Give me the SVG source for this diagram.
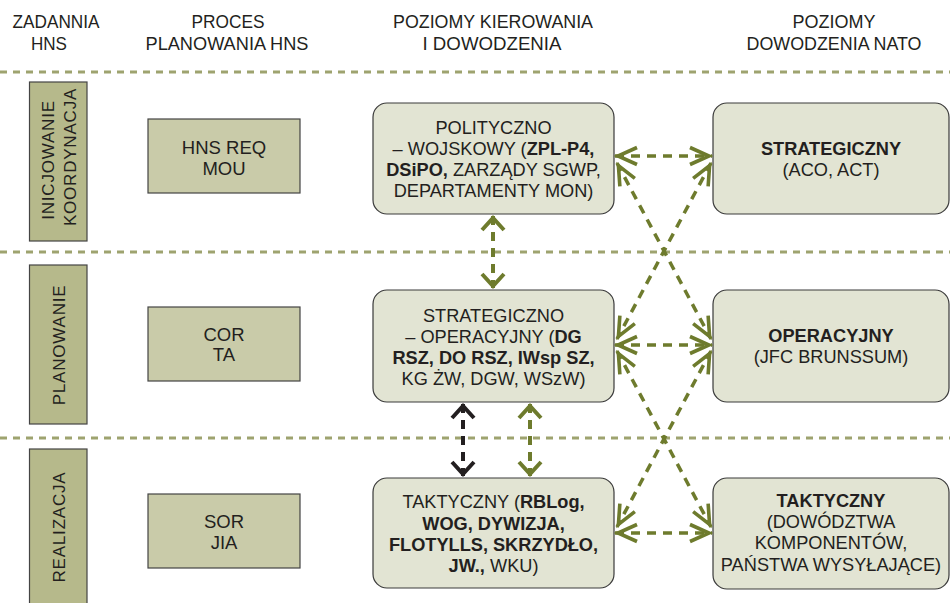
<svg xmlns="http://www.w3.org/2000/svg" width="950" height="603" viewBox="0 0 950 603">
<style>
text{font-family:"Liberation Sans",Arial,sans-serif;fill:#231f20}
.hd{font-size:19px;text-anchor:middle}
.vt{font-size:17px;text-anchor:middle;letter-spacing:0.8px}
.pl{font-size:18.5px;text-anchor:middle}
.bx{font-size:18.2px;text-anchor:middle}
.b{font-weight:bold}
.sep{stroke:#9ea36f;stroke-width:3;stroke-dasharray:7 6;fill:none}
.task{fill:#b6b98b;stroke:#444;stroke-width:1.2}
.proc{fill:#c9cba9;stroke:#444;stroke-width:1.2}
.lvl{fill:#e2e4d3;stroke:#3a3a3a;stroke-width:1.2}
.cg{stroke:#6e7b2d;stroke-width:3.5;stroke-dasharray:9 7;fill:none;marker-start:url(#ag);marker-end:url(#ag)}
.cv{stroke:#6e7b2d;stroke-width:4;stroke-dasharray:9 7;fill:none;marker-start:url(#avg);marker-end:url(#avg)}
.ck{stroke:#231f20;stroke-width:4;stroke-dasharray:9 7;fill:none;marker-start:url(#avk);marker-end:url(#avk)}
</style>
<defs>
<marker id="ag" markerUnits="userSpaceOnUse" orient="auto-start-reverse" markerWidth="30" markerHeight="30" refX="0" refY="0" overflow="visible">
<path d="M-22,-8.5 L-3,0 L-22,8.5" fill="none" stroke="#6e7b2d" stroke-width="3.6"/>
</marker>
<marker id="avg" markerUnits="userSpaceOnUse" orient="auto-start-reverse" markerWidth="30" markerHeight="30" refX="0" refY="0" overflow="visible">
<path d="M-14,-11 L-2,0 L-14,11" fill="none" stroke="#6e7b2d" stroke-width="4"/>
</marker>
<marker id="avk" markerUnits="userSpaceOnUse" orient="auto-start-reverse" markerWidth="30" markerHeight="30" refX="0" refY="0" overflow="visible">
<path d="M-14,-11 L-2,0 L-14,11" fill="none" stroke="#231f20" stroke-width="4"/>
</marker>
</defs>

<g id="headers">
<text class="hd" x="56" y="28" textLength="87" lengthAdjust="spacingAndGlyphs">ZADANNIA</text>
<text class="hd" x="49" y="50" textLength="36" lengthAdjust="spacingAndGlyphs">HNS</text>
<text class="hd" x="228" y="28" textLength="73" lengthAdjust="spacingAndGlyphs">PROCES</text>
<text class="hd" x="227" y="50" textLength="163" lengthAdjust="spacingAndGlyphs">PLANOWANIA HNS</text>
<text class="hd" x="493" y="28" textLength="200" lengthAdjust="spacingAndGlyphs">POZIOMY KIEROWANIA</text>
<text class="hd" x="492" y="50" textLength="139" lengthAdjust="spacingAndGlyphs">I DOWODZENIA</text>
<text class="hd" x="834" y="28" textLength="83" lengthAdjust="spacingAndGlyphs">POZIOMY</text>
<text class="hd" x="834" y="50" textLength="175" lengthAdjust="spacingAndGlyphs">DOWODZENIA NATO</text>
</g>

<g id="separators">
<line class="sep" x1="0" y1="72" x2="950" y2="72"/>
<line class="sep" x1="0" y1="252" x2="950" y2="252"/>
<line class="sep" x1="0" y1="438" x2="950" y2="438"/>
</g>

<g id="task-inicjowanie">
<rect class="task" x="29.5" y="82" width="57.5" height="159"/>
<text class="vt" transform="translate(53.5,160) rotate(-90)">INICJOWANIE</text>
<text class="vt" transform="translate(75.5,157) rotate(-90)">KOORDYNACJA</text>
</g>
<g id="task-planowanie">
<rect class="task" x="29.5" y="265" width="57.5" height="159"/>
<text class="vt" transform="translate(65,345) rotate(-90)">PLANOWANIE</text>
</g>
<g id="task-realizacja">
<rect class="task" x="29.5" y="449" width="57.5" height="160"/>
<text class="vt" transform="translate(65,527) rotate(-90)">REALIZACJA</text>
</g>

<g id="proc-hnsreq">
<rect class="proc" x="148" y="119" width="152" height="74"/>
<text class="pl" x="224" y="154">HNS REQ</text>
<text class="pl" x="224" y="175">MOU</text>
</g>
<g id="proc-cor">
<rect class="proc" x="148" y="307" width="152" height="74"/>
<text class="pl" x="224" y="341">COR</text>
<text class="pl" x="224" y="361">TA</text>
</g>
<g id="proc-sor">
<rect class="proc" x="148" y="494" width="152" height="74"/>
<text class="pl" x="224" y="528">SOR</text>
<text class="pl" x="224" y="549">JIA</text>
</g>

<g id="pl-polityczno">
<rect class="lvl" x="373" y="103" width="241" height="111" rx="14"/>
<text class="bx" x="493.5" y="134">POLITYCZNO</text>
<text class="bx" x="493.5" y="155">– WOJSKOWY (<tspan class="b">ZPL-P4,</tspan></text>
<text class="bx" x="493.5" y="176"><tspan class="b">DSiPO,</tspan> ZARZĄDY SGWP,</text>
<text class="bx" x="493.5" y="197">DEPARTAMENTY MON)</text>
</g>
<g id="pl-strategiczno">
<rect class="lvl" x="373" y="290" width="241" height="112" rx="14"/>
<text class="bx" x="493.5" y="322">STRATEGICZNO</text>
<text class="bx" x="493.5" y="343">– OPERACYJNY (<tspan class="b">DG</tspan></text>
<text class="bx b" x="493.5" y="364">RSZ, DO RSZ, IWsp SZ,</text>
<text class="bx" x="493.5" y="385">KG ŻW, DGW, WSzW)</text>
</g>
<g id="pl-taktyczny">
<rect class="lvl" x="373" y="478" width="241" height="110" rx="14"/>
<text class="bx" x="493.5" y="508">TAKTYCZNY (<tspan class="b">RBLog,</tspan></text>
<text class="bx b" x="493.5" y="530">WOG, DYWIZJA,</text>
<text class="bx b" x="493.5" y="551">FLOTYLLS, SKRZYDŁO,</text>
<text class="bx" x="493.5" y="572"><tspan class="b">JW.,</tspan> WKU)</text>
</g>

<g id="nato-strategiczny">
<rect class="lvl" x="713" y="103" width="236" height="111" rx="14"/>
<text class="bx b" x="831" y="155">STRATEGICZNY</text>
<text class="bx" x="831" y="176">(ACO, ACT)</text>
</g>
<g id="nato-operacyjny">
<rect class="lvl" x="713" y="290" width="236" height="112" rx="14"/>
<text class="bx b" x="831" y="342">OPERACYJNY</text>
<text class="bx" x="831" y="363">(JFC BRUNSSUM)</text>
</g>
<g id="nato-taktyczny">
<rect class="lvl" x="713" y="478" width="236" height="111" rx="14"/>
<text class="bx b" x="831" y="507">TAKTYCZNY</text>
<text class="bx" x="831" y="528">(DOWÓDZTWA</text>
<text class="bx" x="831" y="549">KOMPONENTÓW,</text>
<text class="bx" x="831" y="571">PAŃSTWA WYSYŁAJĄCE)</text>
</g>

<g id="connectors">
<line class="cv" x1="493" y1="216" x2="493" y2="288"/>
<line class="ck" x1="463" y1="404" x2="463" y2="476"/>
<line class="cv" x1="530" y1="404" x2="530" y2="476"/>
<line class="cg" x1="615" y1="156" x2="712" y2="156"/>
<line class="cg" x1="615" y1="345" x2="712" y2="345"/>
<line class="cg" x1="615" y1="533" x2="712" y2="533"/>
<line class="cg" x1="617" y1="163" x2="711" y2="339"/>
<line class="cg" x1="711" y1="163" x2="617" y2="339"/>
<line class="cg" x1="617" y1="351" x2="711" y2="527"/>
<line class="cg" x1="711" y1="351" x2="617" y2="527"/>
</g>
</svg>
